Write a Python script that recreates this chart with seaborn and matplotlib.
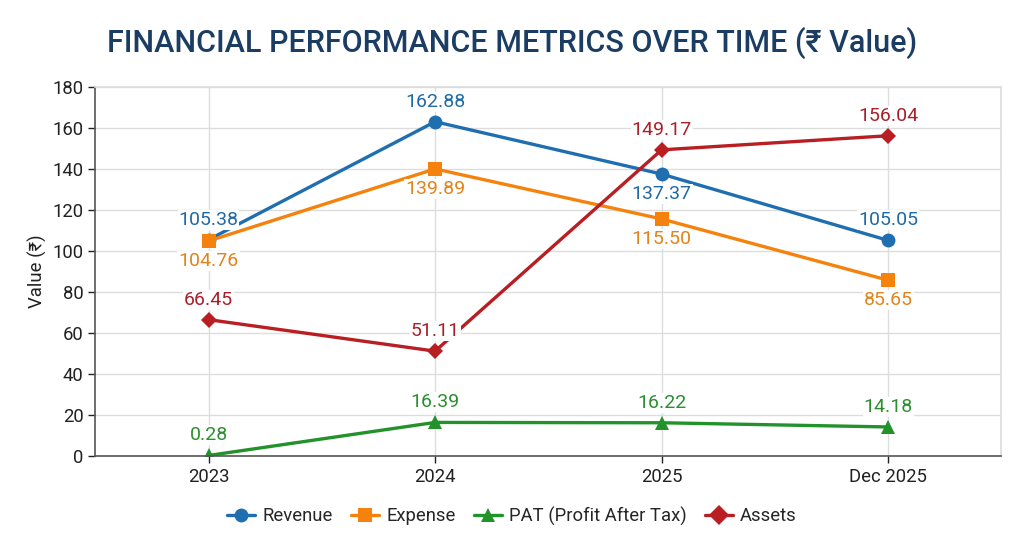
import numpy as np
import pandas as pd
import matplotlib.pyplot as plt
import seaborn as sns

periods = ["2023", "2024", "2025", "Dec 2025"]
revenue = [105.38, 162.88, 137.37, 105.05]
expense = [104.76, 139.89, 115.50, 85.65]
pat = [0.28, 16.39, 16.22, 14.18]
assets = [66.45, 51.11, 149.17, 156.04]

metrics = ["Revenue", "Expense", "PAT (Profit After Tax)", "Assets"]
colors = {"Revenue": "#1f6fb0", "Expense": "#f5820d",
          "PAT (Profit After Tax)": "#22922a", "Assets": "#b81e22"}
label_colors = {"Revenue": "#1f6aa6", "Expense": "#e0841c",
                "PAT (Profit After Tax)": "#2a8f2f", "Assets": "#a8202a"}
markers = {"Revenue": "o", "Expense": "s", "PAT (Profit After Tax)": "^", "Assets": "D"}
marker_sizes = {"Revenue": 10, "Expense": 10, "PAT (Profit After Tax)": 10, "Assets": 8}

# label above (+1) or below (-1) each point
label_side = {
    "Revenue": [1, 1, -1, 1],
    "Expense": [-1, -1, -1, -1],
    "PAT (Profit After Tax)": [1, 1, 1, 1],
    "Assets": [1, 1, 1, 1],
}

df = pd.DataFrame({"Period": periods, "Revenue": revenue, "Expense": expense,
                   "PAT (Profit After Tax)": pat, "Assets": assets})
long = df.melt(id_vars="Period", var_name="Metric", value_name="Value")

sns.set_theme(style="whitegrid")
plt.rcParams["font.family"] = ["Roboto", "DejaVu Sans"]

fig, ax = plt.subplots(figsize=(10.24, 5.41), dpi=100)
fig.subplots_adjust(left=0.093, right=0.978, top=0.84, bottom=0.157)

sns.lineplot(data=long, x="Period", y="Value", hue="Metric", style="Metric",
             hue_order=metrics, style_order=metrics, palette=colors,
             markers=markers, dashes=False, sort=False, linewidth=2.4,
             markersize=10, markeredgewidth=0, ax=ax)

for line, m in zip(ax.lines, metrics):
    line.set_markersize(marker_sizes[m])

for m in metrics:
    vals = df[m].tolist()
    for i, v in enumerate(vals):
        side = label_side[m][i]
        ax.annotate(f"{v:.2f}", (i, v), xytext=(0, 8 * side), textcoords="offset points",
                    ha="center", va="bottom" if side > 0 else "top",
                    fontsize=14, color=label_colors[m],
                    bbox=dict(boxstyle="square,pad=0.05", fc="white", ec="none"))

ax.set_xlim(-0.5, 3.5)
ax.set_ylim(0, 180)
ax.set_yticks(np.arange(0, 181, 20))
ax.set_xlabel("")
ax.set_ylabel("Value (₹)", fontsize=13.3, color="#222222")
ax.tick_params(axis="both", labelsize=13.3, colors="#222222", length=5, width=1,
               left=True, bottom=True)
ax.grid(True, color="#dddddd", linewidth=1)
for s in ["top", "right"]:
    ax.spines[s].set_color("#dddddd")
for s in ["left", "bottom"]:
    ax.spines[s].set_color("#555555")
    ax.spines[s].set_linewidth(1.2)

handles, labels = ax.get_legend_handles_labels()
ax.legend_.remove()
fig.legend(handles, labels, loc="center", bbox_to_anchor=(0.5, 0.046), ncol=4, frameon=False,
           fontsize=13.3, handlelength=1.5, columnspacing=1.0, handletextpad=0.4)

fig.suptitle("FINANCIAL PERFORMANCE METRICS OVER TIME (₹ Value)", x=0.5, y=0.95,
             fontsize=22, fontweight="medium", color="#1b3d63")

plt.savefig("out.png", dpi=100)
plt.close()
